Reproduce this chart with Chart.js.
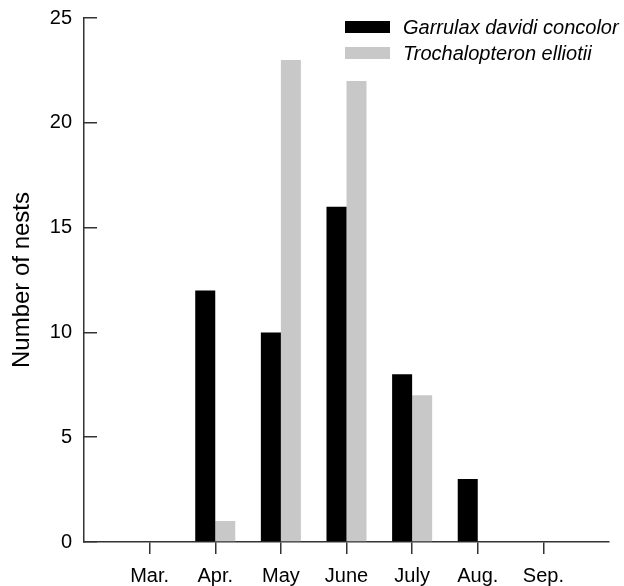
<!DOCTYPE html>
<html>
<head>
<meta charset="utf-8">
<script src="https://cdn.jsdelivr.net/npm/chart.js@4/dist/chart.umd.min.js"></script>
<style>
  html, body { margin: 0; padding: 0; background: #fff; }
  canvas { display: block; }
</style>
</head>
<body>
<canvas id="nests" width="624" height="586"></canvas>
<script>
// months shown on the x axis
var months = ['Mar.', 'Apr.', 'May', 'June', 'July', 'Aug.', 'Sep.'];
// number of nests per month
var garrulax = [0, 12, 10, 16, 8, 3, 0];
var trochalopteron = [0, 1, 23, 22, 7, 0, 0];
var series_names = ['Garrulax davidi concolor', 'Trochalopteron elliotii'];
// y axis ticks
var y_min = 0;
var y_max = 25;
var y_step = 5;

var font_family = '"Liberation Sans", Arial, Helvetica, sans-serif';
var axis_clr = '#333333';

// one empty slot on each side so the axis runs past Mar. and Sep.
var labels = [''].concat(months, ['']);
function pad(arr) {
  return [null].concat(arr, [null]);
}

// legend drawn inside the plot, top right
var inner_legend = {
  id: 'inner_legend',
  afterDraw: function(chart) {
    var ctx = chart.ctx;
    ctx.save();
    ctx.font = 'italic 20px ' + font_family;
    ctx.textBaseline = 'middle';
    ctx.textAlign = 'left';
    chart.data.datasets.forEach(function(ds, i) {
      var y = 27 + i * 26;
      ctx.fillStyle = ds.backgroundColor;
      ctx.fillRect(345, y - 6, 45, 12);
      ctx.fillStyle = '#000';
      ctx.fillText(ds.label, 403, y + 1);
    });
    ctx.restore();
  }
};

var ctx = document.getElementById('nests').getContext('2d');
new Chart(ctx, {
  type: 'bar',
  data: {
    labels: labels,
    datasets: [
      {
        label: series_names[0],
        data: pad(garrulax),
        backgroundColor: '#000000',
        borderWidth: 0
      },
      {
        label: series_names[1],
        data: pad(trochalopteron),
        backgroundColor: '#c8c8c8',
        borderWidth: 0
      }
    ]
  },
  options: {
    responsive: false,
    animation: false,
    layout: {
      padding: { top: 18, right: 15, left: 0, bottom: 0 }
    },
    categoryPercentage: 0.61,
    barPercentage: 1.0,
    plugins: {
      legend: { display: false },
      tooltip: { enabled: false }
    },
    scales: {
      x: {
        offset: false,
        grid: {
          offset: false,
          drawOnChartArea: false,
          drawTicks: true,
          tickLength: 12,
          lineWidth: 1.5,
          color: function(c) {
            return (c.tick && c.tick.label === '') ? 'rgba(0,0,0,0)' : axis_clr;
          }
        },
        border: { display: true, color: axis_clr, width: 1.5 },
        ticks: {
          color: '#000',
          padding: 10,
          maxRotation: 0,
          autoSkip: false,
          font: { family: font_family, size: 20 }
        },
        afterFit: function(scale) { scale.height = 44; }
      },
      y: {
        min: y_min,
        max: y_max,
        grid: {
          drawOnChartArea: false,
          drawTicks: true,
          tickLength: -13,
          lineWidth: 1.5,
          color: axis_clr
        },
        border: { display: true, color: axis_clr, width: 1.5 },
        ticks: {
          stepSize: y_step,
          color: '#000',
          padding: 25,
          font: { family: font_family, size: 20 }
        },
        title: {
          display: true,
          text: 'Number of nests',
          color: '#000',
          padding: { top: 8, bottom: 0 },
          font: { family: font_family, size: 24 }
        },
        afterFit: function(scale) {
          scale.width = 84;
          // the tick padding would otherwise push the plot down
          scale.paddingTop = 0;
          scale.paddingBottom = 0;
        }
      }
    }
  },
  plugins: [inner_legend]
});
</script>
</body>
</html>
